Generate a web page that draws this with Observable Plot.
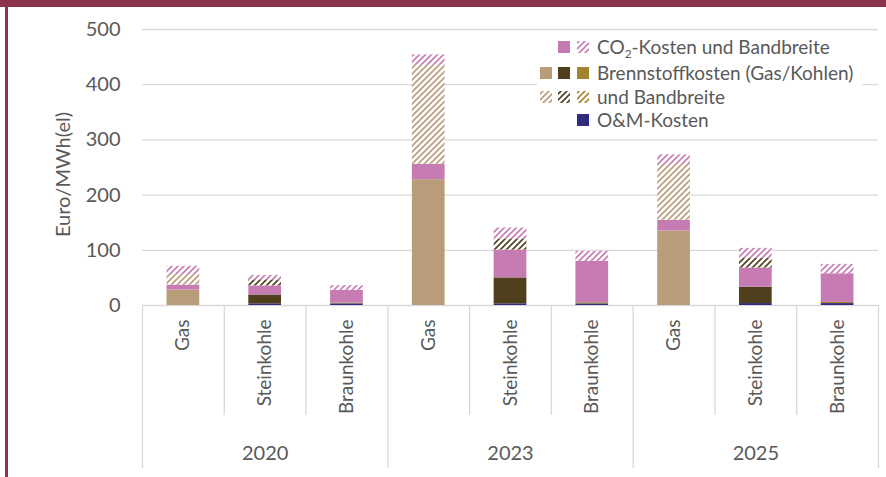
<!DOCTYPE html>
<html><head><meta charset="utf-8">
<script src="https://cdn.jsdelivr.net/npm/d3@7"></script>
<script src="https://cdn.jsdelivr.net/npm/@observablehq/plot@0.6"></script>
<style>
html,body{margin:0;padding:0;background:#fff;}
#wrap{position:relative;width:886px;height:477px;overflow:hidden;font-family:Lato,"Open Sans",sans-serif;color:#595959;}
#topbar{position:absolute;left:0;top:0;width:886px;height:7px;background:#8B344B;z-index:3;}
#leftbar{position:absolute;left:5px;top:0;width:2.5px;height:477px;background:#8B344B;z-index:3;}
#chart{position:absolute;left:0;top:0;}
#legend{position:absolute;left:537px;top:33px;width:325px;height:104px;background:#fff;z-index:2;}
.row{position:absolute;left:0;height:24px;width:325px;}
.row svg{position:absolute;left:0;top:6px;}
.row span{position:absolute;left:60px;top:0;line-height:24px;font-size:19px;white-space:nowrap;color:#595959;}
.row sub{font-size:0.62em;vertical-align:-0.3em;line-height:0;}
</style></head><body>
<div id="wrap">
<svg width="0" height="0" style="position:absolute">
  <defs id="pats"></defs>
</svg>
<div id="chart"></div>
<div id="legend"></div>
<div id="topbar"></div>
<div id="leftbar"></div>
</div>
<script>
// ---- data ----
const years = ["2020", "2023", "2025"];
const fuels = ["Gas", "Steinkohle", "Braunkohle"];
// order: 2020 Gas, Steinkohle, Braunkohle, 2023 ..., 2025 ...
const omCost   = [0, 3, 3,   0, 3, 3,   0, 3.5, 3.5];
const fuelCost = [28, 16, 1.5,   228, 47, 2,   135, 29.5, 2];
const co2Cost  = [9, 16.5, 23,   28, 50.5, 75,   19.5, 35, 52];
const fuelBand = [19, 11, 0,   179, 20, 0,   101, 18, 0];
const co2Band  = [15, 8, 8.5,   19, 20, 18,   17.5, 17.5, 17];
const yTicks = [0, 100, 200, 300, 400, 500];
const yLabel = "Euro/MWh(el)";
const legendLabels = ["CO<sub>2</sub>-Kosten und Bandbreite", "Brennstoffkosten (Gas/Kohlen)", "und Bandbreite", "O&amp;M-Kosten"];

// ---- colours ----
const pink = "#C77BB3";
const navy = "#2F2C7E";
const fuelColors = ["#B99D7B", "#4F3F1C", "#A5822F"];
const fuelIds = ["gas", "stein", "braun"];

// hatch patterns
const defs = document.getElementById("pats");
function addPattern(id, color) {
  const ns = "http://www.w3.org/2000/svg";
  const p = document.createElementNS(ns, "pattern");
  p.setAttribute("id", id);
  p.setAttribute("patternUnits", "userSpaceOnUse");
  p.setAttribute("width", 6); p.setAttribute("height", 6);
  const r = document.createElementNS(ns, "rect");
  r.setAttribute("width", 6); r.setAttribute("height", 6); r.setAttribute("fill", "#fff");
  const path = document.createElementNS(ns, "path");
  path.setAttribute("d", "M-1.5,1.5 L1.5,-1.5 M0,6 L6,0 M4.5,7.5 L7.5,4.5");
  path.setAttribute("stroke", color); path.setAttribute("stroke-width", 1.6);
  p.appendChild(r); p.appendChild(path); defs.appendChild(p);
}
addPattern("hatch-co2", pink);
fuelColors.forEach((c, k) => addPattern("hatch-" + fuelIds[k], c));

// ---- stacked segments ----
const layers = [
  {values: omCost,   fill: () => navy},
  {values: fuelCost, fill: fi => fuelColors[fi]},
  {values: co2Cost,  fill: () => pink},
  {values: fuelBand, fill: fi => `url(#hatch-${fuelIds[fi]})`},
  {values: co2Band,  fill: () => "url(#hatch-co2)"}
];
const segs = [];
years.forEach((yr, yi) => fuels.forEach((f, fi) => {
  const i = yi * fuels.length + fi;
  let base = 0;
  layers.forEach(L => {
    const v = L.values[i];
    if (v > 0) segs.push({i, y1: base, y2: base + v, fill: L.fill(fi)});
    base += v;
  });
}));

const n = years.length * fuels.length;
const catCenters = d3.range(n).map(i => i + 0.5);
const catEdges = d3.range(n + 1).filter(i => i % fuels.length !== 0);
const yearEdges = d3.range(0, n + 1, fuels.length);
const yearCenters = years.map((y, k) => k * fuels.length + fuels.length / 2);

const grid = "#d9d9d9";
const fs = 20;
const chart = Plot.plot({
  width: 886, height: 477,
  marginLeft: 142, marginRight: 8, marginTop: 29, marginBottom: 172,
  x: {domain: [0, n], axis: null},
  y: {domain: [0, 500], axis: null},
  color: {type: "identity"},
  style: {fontFamily: "Lato, 'Open Sans', sans-serif", fontSize: fs + "px", color: "#595959", background: "transparent", overflow: "visible"},
  marks: [
    Plot.gridY(yTicks.slice(1), {stroke: grid, strokeOpacity: 1, strokeWidth: 1.3}),
    Plot.ruleY([0], {stroke: grid, strokeWidth: 1.3}),
    Plot.axisY(yTicks, {tickSize: 0, tickPadding: 22, fontSize: fs, fill: "#595959", label: null}),
    Plot.axisX(catEdges, {tickSize: 110, tickFormat: () => "", stroke: grid, strokeWidth: 1.3, label: null}),
    Plot.axisX(yearEdges, {tickSize: 163, tickFormat: () => "", stroke: grid, strokeWidth: 1.3, label: null}),
    Plot.axisX(catCenters, {tickSize: 0, tickPadding: 14, tickRotate: -90, textAnchor: "end",
      tickFormat: v => fuels[Math.floor(v) % fuels.length], fontSize: 19, fill: "#595959", label: null}),
    Plot.axisX(yearCenters, {tickSize: 0, tickPadding: 140,
      tickFormat: v => years[Math.floor(v / fuels.length)], fontSize: fs, fill: "#595959", label: null}),
    Plot.text([yLabel], {text: d => d, frameAnchor: "left", textAnchor: "middle", rotate: -90, dx: -79, dy: 7, fontSize: fs, fill: "#595959"}),
    Plot.rect(segs, {x1: d => d.i + 0.3, x2: d => d.i + 0.7, y1: "y1", y2: "y2", fill: "fill"})
  ]
});
document.getElementById("chart").appendChild(chart);

// ---- legend ----
const legendSwatches = [
  [null, pink, "url(#hatch-co2)"],
  fuelColors,
  fuelIds.map(id => `url(#hatch-${id})`),
  [null, null, navy]
];
const rowTops = [2, 27.5, 52, 75];
const colX = [3, 21, 40];
const legend = document.getElementById("legend");
legendLabels.forEach((lab, r) => {
  const row = document.createElement("div");
  row.className = "row";
  row.style.top = rowTops[r] + "px";
  let s = `<svg width="56" height="12">`;
  legendSwatches[r].forEach((c, k) => { if (c) s += `<rect x="${colX[k]}" y="0" width="12" height="12" fill="${c}"/>`; });
  s += `</svg><span>${lab}</span>`;
  row.innerHTML = s;
  legend.appendChild(row);
});
</script>
</body></html>
